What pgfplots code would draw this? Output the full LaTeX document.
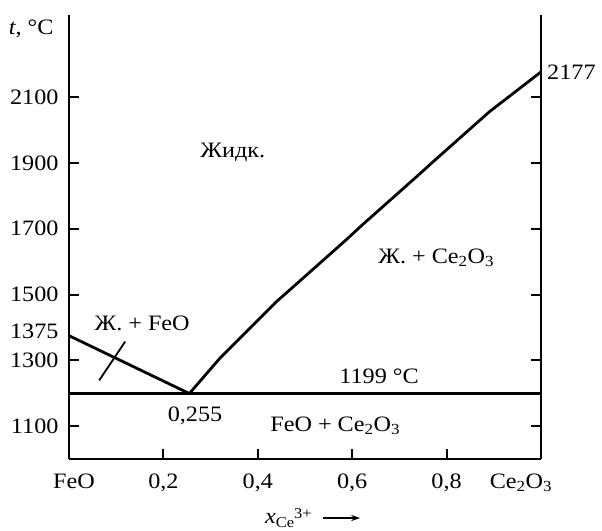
\documentclass[border=0pt]{standalone}
\usepackage{pgfplots}
\pgfplotsset{compat=1.18}
\usetikzlibrary{arrows.meta}
\usepackage{fontspec}
\setmainfont{Liberation Serif}[FakeStretch=1.1]
\begin{document}
\fontsize{22}{26}\selectfont
\begin{tikzpicture}[font=\fontsize{22}{26}\selectfont]
\useasboundingbox (-69pt,-71pt) rectangle (533pt,459pt);
\begin{axis}[
  scale only axis, width=472pt, height=444pt,
  xmin=0, xmax=1, ymin=1000, ymax=2350,
  axis x line=bottom, axis y line=box,
  x axis line style={-},
  axis line style={line width=2.2pt},
  tick align=inside, major tick length=10pt,
  every tick/.style={line width=2pt, black},
  xtick={0,0.2,0.4,0.6,0.8,1},
  xticklabels={\hspace*{10pt}FeO, {0,2}, {0,4}, {0,6}, {0,8}, Ce\textsubscript{2}O\textsubscript{3}\hspace*{40pt}},
  xticklabel style={yshift=-7pt},
  ytick={1100,1300,1500,1700,1900,2100},
  yticklabels={1100,1300,1500,1700,1900,2100},
  yticklabel style={xshift=-3pt},
  extra y ticks={1375},
  extra y tick labels={1375},
  extra y tick style={major tick length=0pt, yticklabel style={yshift=4pt}},
  clip=false,
]
\addplot[black, line width=2.8pt] coordinates {(0,1375) (0.255,1199)};
\addplot[black, line width=2.8pt] coordinates {(0.255,1199) (0.32,1307) (0.44,1479) (0.47,1517) (0.59,1670) (0.62,1710) (0.74,1863) (0.77,1902) (0.89,2055) (1,2177)};
\addplot[black, line width=2.8pt] coordinates {(0,1199) (1,1199)};
\addplot[black, line width=1.8pt] coordinates {(0.064,1239) (0.119,1357)};
\node at (axis cs:0.347,1931) {Жидк.};
\node at (axis cs:0.778,1612) {Ж. + Ce\textsubscript{2}O\textsubscript{3}};
\node at (axis cs:0.155,1412) {Ж. + FeO};
\node at (axis cs:0.657,1252) {1199 °C};
\node at (axis cs:0.267,1130) {0,255};
\node at (axis cs:0.564,1100) {FeO + Ce\textsubscript{2}O\textsubscript{3}};
\node[anchor=west, xshift=4pt, inner sep=2pt] at (axis cs:1,2177) {2177};
\node[anchor=east, xshift=-8pt] at (axis cs:0,2308) {\textit{t}, °C};
\node[anchor=base west, inner sep=0pt] at ([yshift=-64pt]rel axis cs:0.415,0) {\textit{x}\raisebox{-4pt}{\fontsize{15}{15}\selectfont Ce\raisebox{9pt}{3+}}};
\draw[line width=1.3pt, -{Stealth[length=9pt,width=6pt]}] ([yshift=-59pt]rel axis cs:0.538,0) -- ([yshift=-59pt]rel axis cs:0.617,0);
\end{axis}
\end{tikzpicture}
\end{document}
